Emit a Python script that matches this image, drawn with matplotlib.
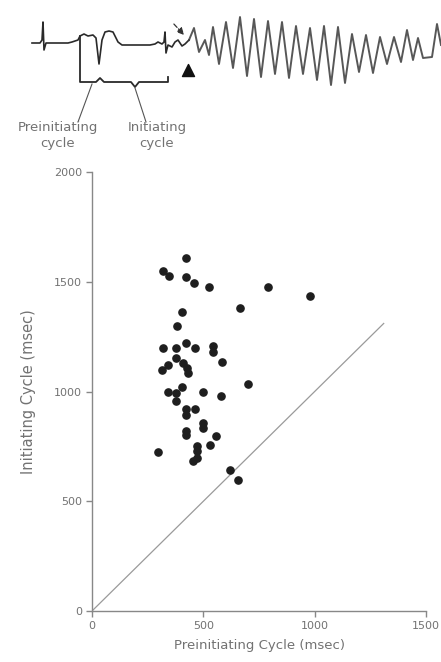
import numpy as np
import matplotlib; matplotlib.use("Agg"); import matplotlib.pyplot as plt

# scatter data (msec)
pre_cycle = [423, 319, 345, 420, 458, 527, 789, 980, 664, 405, 381,
             318, 378, 423, 461, 542, 542, 584, 376, 407, 340, 315, 428, 432,
             700, 402, 340, 376, 498, 580, 375, 421, 462, 421,
             497, 497, 420, 420, 556, 530, 473, 473, 455, 473, 297, 619, 655]
init_cycle = [1606, 1549, 1524, 1522, 1493, 1478, 1478, 1434, 1379, 1362, 1300,
              1196, 1199, 1219, 1196, 1207, 1181, 1134, 1151, 1131, 1120, 1100, 1108, 1085,
              1032, 1020, 999, 994, 999, 979, 956, 918, 921, 895,
              857, 834, 819, 804, 799, 755, 750, 727, 685, 697, 723, 641, 598]
identity_end = 1310

# schematic ECG strip (figure pixel coordinates, y down)
sinus_x = [32, 40, 42, 43, 44, 46, 55, 68, 72, 75, 78, 80, 84, 88, 93, 96, 99, 102,
           105, 109, 113, 118, 122, 150, 155, 158, 162, 164, 165, 166, 168, 172,
           175, 178, 182, 185, 189]
sinus_y = [43, 43, 40, 22, 50, 43, 43, 43, 42, 41, 40, 36, 34, 36, 35, 38, 64, 40,
           32, 31, 32, 42, 45, 45, 44, 42, 44, 42, 32, 53, 45, 47,
           42, 40, 46, 44, 40]
vf_x = [189, 194, 199, 205, 209, 213, 219, 226, 233, 240, 247, 254, 261, 268, 275,
        282, 289, 296, 303, 310, 317, 324, 331, 338, 345, 352, 359, 366, 373, 380,
        387, 394, 401, 407, 413, 418, 423, 432, 437, 441]
vf_y = [40, 28, 52, 40, 55, 27, 64, 22, 68, 17, 76, 19, 77, 21, 74,
        22, 78, 26, 74, 28, 80, 26, 85, 27, 83, 34, 72, 35, 73, 37,
        64, 37, 62, 30, 60, 38, 58, 57, 24, 45]
brace_x = [80, 80, 96, 100, 104, 131, 135, 139, 168, 168]
brace_y = [36, 82, 82, 78, 82, 82, 87, 82, 82, 77]

grey = "#727272"
plt.rcParams["font.family"] = ["DejaVu Sans"]

fig = plt.figure(figsize=(4.41, 6.62), dpi=100)

# overlay for the ECG illustration
ov = fig.add_axes([0, 0, 1, 1])
ov.set_xlim(0, 441); ov.set_ylim(662, 0); ov.axis("off")
ov.plot(sinus_x, sinus_y, color="#2a2a2a", lw=1.2)
ov.plot(vf_x, vf_y, color="#3a3a3a", lw=1.4, alpha=0.85)
ov.plot(brace_x, brace_y, color="#2a2a2a", lw=1.3)
ov.plot([92, 78], [84, 122], color="#555555", lw=0.8)
ov.plot([135, 146], [88, 122], color="#555555", lw=0.8)
ov.annotate("", xy=(186, 37), xytext=(172, 22),
            arrowprops=dict(arrowstyle="-|>", color="#333333", lw=0.9, ls="--"))
ov.scatter([188], [70], marker="^", s=75, color="#111111")
ov.text(58, 136, "Preinitiating\ncycle", ha="center", va="center",
        fontsize=9.5, color=grey, linespacing=1.3)
ov.text(157, 136, "Initiating\ncycle", ha="center", va="center",
        fontsize=9.5, color=grey, linespacing=1.3)

# scatter plot
ax = fig.add_axes([92/441, 1-611/662, (426-92)/441, (611-172)/662])
ax.patch.set_alpha(0)
ax.scatter(pre_cycle, init_cycle, s=27, color="#1e1e1e", zorder=3)
ax.plot([0, identity_end], [0, identity_end], color="#9a9a9a", lw=0.9)
ax.set_xlim(0, 1500); ax.set_ylim(0, 2000)
ax.set_xticks([0, 500, 1000, 1500]); ax.set_yticks([0, 500, 1000, 1500, 2000])
for s in ("top", "right"):
    ax.spines[s].set_visible(False)
for s in ("left", "bottom"):
    ax.spines[s].set_color("#888888"); ax.spines[s].set_linewidth(1.0)
ax.tick_params(colors="#888888", labelcolor=grey, labelsize=8, length=4, width=1, pad=3)
ax.set_xlabel("Preinitiating Cycle (msec)", fontsize=9.5, color=grey, labelpad=6)
ax.set_ylabel("Initiating Cycle (msec)", fontsize=10.5, color=grey, labelpad=13)

fig.savefig("out.png", dpi=100)
